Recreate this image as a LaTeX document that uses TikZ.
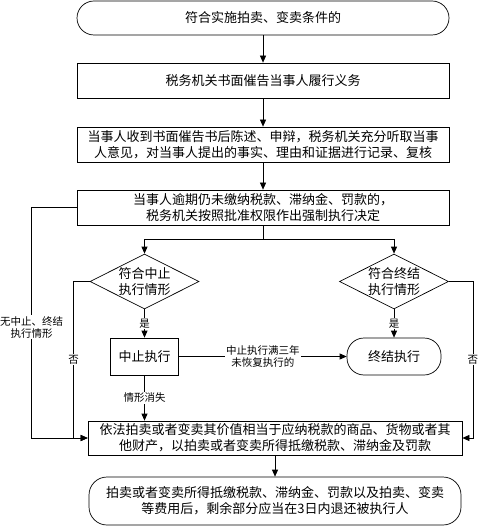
\documentclass[tikz,border=0pt]{standalone}
\usepackage{fontspec}
\setmainfont{Noto Sans CJK SC}
\usetikzlibrary{arrows.meta,shapes.geometric}

\begin{document}
\begin{tikzpicture}[x=1pt, y=-1pt, >={Triangle[length=7pt,width=6pt]}, line width=0.7pt,
  box/.style={draw, rectangle, inner sep=2pt, align=center, font=\fontsize{13}{16}\selectfont},
  pill/.style={box, rounded corners=#1},
  choice/.style={draw, diamond, aspect=2, inner sep=0pt, minimum width=109pt, minimum height=55pt, align=center, font=\fontsize{13}{16}\selectfont},
  note/.style={fill=white, inner sep=1pt, align=center, font=\fontsize{10.5}{12.5}\selectfont}]
  \useasboundingbox (0,0) rectangle (479,526);
  % main column
  \node[pill=17pt, minimum width=372pt, minimum height=34pt] (start) at (263,18) {符合实施拍卖、变卖条件的};
  \node[box, minimum width=372pt, minimum height=35pt] (urge) at (263,80.5) {税务机关书面催告当事人履行义务};
  \node[box, minimum width=372pt, minimum height=35pt] (hear) at (263,144.5) {当事人收到书面催告书后陈述、申辩，税务机关充分听取当事\\人意见，对当事人提出的事实、理由和证据进行记录、复核};
  \node[box, minimum width=372pt, minimum height=35pt] (decide) at (263,207.5) {当事人逾期仍未缴纳税款、滞纳金、罚款的，\\税务机关按照批准权限作出强制执行决定};
  % the two checks
  \node[choice] (stopQ) at (144.5,281.5) {符合中止\\执行情形};
  \node[choice] (endQ) at (394,281.5) {符合终结\\执行情形};
  \node[box, minimum width=68pt, minimum height=37pt] (stop) at (144.5,356.5) {中止执行};
  \node[pill=17pt, minimum width=94pt, minimum height=37pt] (finish) at (394,356.5) {终结执行};
  % sale and refund
  \node[box, minimum width=374pt, minimum height=34pt] (sell) at (275,438) {依法拍卖或者变卖其价值相当于应纳税款的商品、货物或者其\\他财产，以拍卖或者变卖所得抵缴税款、滞纳金及罚款};
  \node[pill=18pt, minimum width=372pt, minimum height=48pt] (refund) at (275,501) {拍卖或者变卖所得抵缴税款、滞纳金、罚款以及拍卖、变卖\\等费用后，剩余部分应当在3日内退还被执行人};

  \draw[->] (start) -- (urge);
  \draw[->] (urge) -- (hear);
  \draw[->] (hear) -- (decide);
  \draw (decide.south) -- ++(0,14) coordinate (split);
  \draw[->] (split) -| (stopQ.north);
  \draw[->] (split) -| (endQ.north);
  % yes branches
  \draw[->] (stopQ) -- node[note] {是} (stop);
  \draw[->] (endQ) -- node[note] {是} (finish);
  \draw[->] (stop) -- node[note] {中止执行满三年\\未恢复执行的} (finish);
  \draw[->] (stop.south) -- node[note] {情形消失} (stop.south |- sell.north);
  % no branches
  \draw[->] (decide.west) -- ++(-45,0) |- node[pos=0.26, note] {无中止、终结\\执行情形} (sell.west);
  \draw[->] (stopQ.west) -- ++(-16,0) |- node[pos=0.25, note] {否} (sell.west);
  \draw[->] (endQ.east) -- ++(24,0) |- node[pos=0.25, note] {否} (sell.east);
  \draw[->] (sell) -- (refund);
\end{tikzpicture}
\end{document}
